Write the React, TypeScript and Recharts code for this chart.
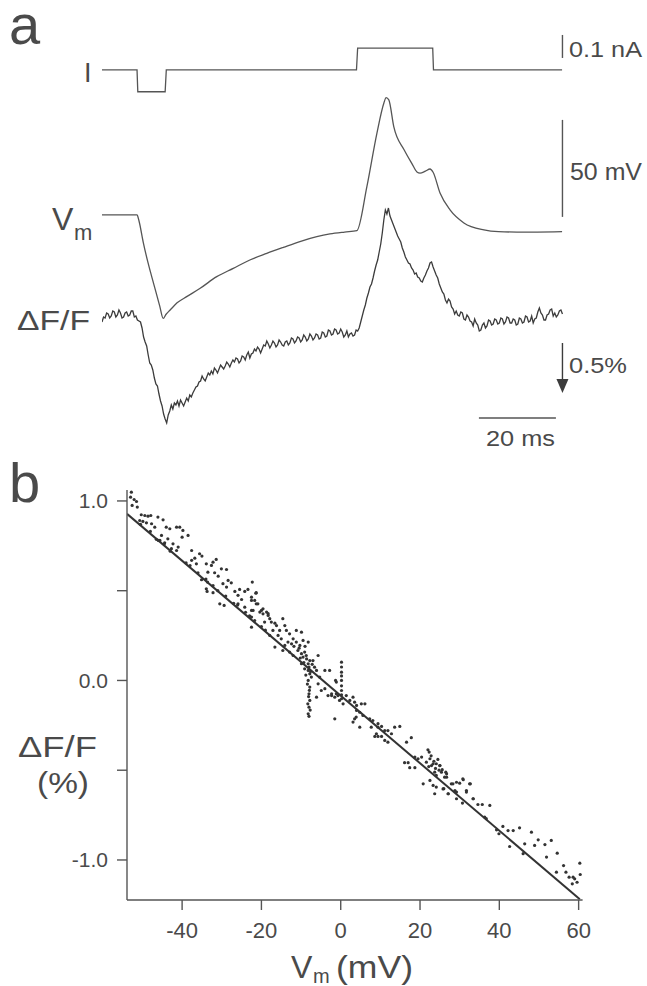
import React from "react";
import {
  ComposedChart,
  Line,
  Scatter,
  XAxis,
  YAxis,
  ReferenceLine,
} from "recharts";

const INK = "#3c3c3c";
const TEXT = "#4a4a4a";
const FONT = '"Liberation Sans", Arial, Helvetica, sans-serif';

// ---- panel a: traces vs time (ms) ----

// injected current, [ms, nA]
const CURRENT: [number, number][] = [
  [0, 0], [9.1, 0], [9.3, -0.095], [16.4, -0.095], [16.7, 0],
  [66.1, 0], [66.4, 0.095], [85.9, 0.095], [86.1, 0], [119.5, 0],
];

// membrane potential relative to rest, [ms, mV]
const VM: [number, number][] = [
  [0, 0], [9.1, 0], [9.6, -3], [10.7, -14], [12, -25], [13.5, -36], [15, -47],
  [15.9, -53.3], [16.6, -51.3], [17.7, -49], [19.5, -45.3], [22, -42.1],
  [25.5, -37.8], [29.8, -31.8], [34.1, -27.5], [38.4, -23.2], [42.8, -19.8],
  [47.1, -16.7], [51.4, -13.7], [55.8, -11.2], [59.2, -9.8], [63, -8.8],
  [66.2, -8.1], [68.8, 14.6], [71.4, 42.1], [73.2, 57.6], [73.8, 60.5],
  [74.5, 59.3], [75.8, 45.4], [78.5, 33.5], [80.5, 26.5], [81.8, 22.2],
  [82.6, 21.6], [84, 22.6], [85.2, 23.7], [86, 22], [87.8, 11.3], [90.4, 2.6],
  [94, -4.1], [99.2, -7.7], [103, -8.6], [107.8, -8.8], [113, -8.8], [119.5, -8.6],
];

// fluorescence change (%), one sample every DT ms
const DT = 0.4;
const DFF: number[] = [
  // 0 - 7.6 ms
  0.04, -0.01, 0.0, -0.05, -0.04, 0.0, -0.02, -0.07, -0.06, -0.01,
  -0.03, -0.08, -0.05, 0.0, -0.01, -0.05, -0.06, -0.02, -0.03, -0.07,
  // 8 - 15.6
  -0.07, -0.01, -0.02, 0.02, 0.03, 0.04, 0.1, 0.19, 0.24, 0.28,
  0.37, 0.45, 0.47, 0.52, 0.6, 0.66, 0.68, 0.76, 0.83, 0.88,
  // 16 - 23.6
  0.96, 1.01, 1.05, 0.97, 0.93, 0.87, 0.91, 0.85, 0.87, 0.83,
  0.88, 0.82, 0.85, 0.88, 0.84, 0.8, 0.83, 0.77, 0.79, 0.75,
  // 24 - 31.6
  0.72, 0.69, 0.68, 0.64, 0.63, 0.58, 0.61, 0.63, 0.59, 0.55,
  0.57, 0.53, 0.56, 0.5, 0.52, 0.55, 0.51, 0.47, 0.49, 0.51,
  // 32 - 39.6
  0.48, 0.44, 0.46, 0.49, 0.45, 0.42, 0.44, 0.4, 0.41, 0.45,
  0.43, 0.38, 0.39, 0.42, 0.37, 0.34, 0.4, 0.36, 0.35, 0.31,
  // 40 - 47.6
  0.33, 0.29, 0.31, 0.35, 0.31, 0.27, 0.28, 0.23, 0.26, 0.3,
  0.27, 0.23, 0.25, 0.29, 0.27, 0.22, 0.24, 0.27, 0.28, 0.24,
  // 48 - 55.6
  0.23, 0.27, 0.25, 0.2, 0.21, 0.25, 0.23, 0.19, 0.2, 0.24,
  0.22, 0.17, 0.19, 0.23, 0.21, 0.16, 0.18, 0.22, 0.2, 0.16,
  // 56 - 63.6
  0.17, 0.21, 0.2, 0.14, 0.15, 0.19, 0.18, 0.12, 0.13, 0.17,
  0.16, 0.11, 0.12, 0.16, 0.15, 0.11, 0.14, 0.19, 0.17, 0.13,
  // 64 - 71.6
  0.19, 0.16, 0.15, 0.18, 0.17, 0.12, 0.13, 0.1, 0.04, -0.02,
  -0.08, -0.13, -0.2, -0.25, -0.31, -0.34, -0.4, -0.47, -0.53, -0.58,
  // 72 - 79.6
  -0.66, -0.74, -0.85, -0.98, -1.08, -1.04, -1.1, -1.02, -0.98, -0.94,
  -0.9, -0.86, -0.82, -0.79, -0.76, -0.7, -0.66, -0.61, -0.58, -0.55,
  // 80 - 87.6
  -0.54, -0.5, -0.48, -0.44, -0.45, -0.41, -0.4, -0.37, -0.36, -0.4,
  -0.43, -0.47, -0.5, -0.55, -0.56, -0.51, -0.47, -0.43, -0.4, -0.34,
  // 88 - 95.6
  -0.3, -0.26, -0.24, -0.18, -0.15, -0.19, -0.17, -0.11, -0.09, -0.04,
  -0.07, -0.03, -0.02, -0.06, -0.05, 0.01, 0.02, -0.03, -0.01, 0.03,
  // 96 - 103.6
  0.04, 0.08, 0.01, 0.05, 0.07, 0.13, 0.12, 0.07, 0.05, 0.1,
  0.08, 0.02, 0.03, 0.07, 0.06, 0.01, 0.02, 0.06, 0.05, 0.0,
  // 104 - 111.6
  0.01, 0.06, 0.04, -0.01, 0.0, 0.05, 0.05, 0.01, 0.02, 0.07,
  0.06, 0.0, 0.01, 0.05, 0.04, -0.02, -0.01, 0.04, 0.03, -0.02,
  // 112 - 119.6
  0.05, 0.01, 0.0, -0.06, -0.1, -0.05, -0.03, 0.02, 0.02, -0.03,
  -0.04, -0.08, -0.09, -0.02, -0.05, -0.01, -0.03, -0.07, -0.08, -0.04,
];

// scale bars
const BAR_X = 119.6;
const BAR_NA: [number, number] = [0.052, 0.152];
const BAR_MV: [number, number] = [-1, 49];
const BAR_DFF: [number, number] = [0.25, 0.75];
const BAR_MS: [number, number] = [97.9, 117.9];
const BAR_MS_Y = 1.0;

// ---- panel b: dF/F (%) vs Vm (mV) ----
const SCATTER: [number, number][] = [
  // far hyperpolarized
  [-52.8, 1.049], [-53.0, 1.021], [-52.1, 1.008], [-51.5, 0.997], [-52.6, 0.975],
  [-51.3, 0.966], [-50.3, 0.923], [-49.4, 0.919], [-48.6, 0.915], [-47.9, 0.919],
  [-50.7, 0.891], [-49.9, 0.886], [-49.0, 0.878], [-47.7, 0.873], [-46.1, 0.91],
  [-44.8, 0.895], [-46.9, 0.854], [-44.0, 0.854], [-43.1, 0.845], [-41.4, 0.854],
  [-40.6, 0.854], [-39.8, 0.836], [-38.5, 0.808], [-40.0, 0.798], [-45.2, 0.808],
  [-46.5, 0.786], [-45.6, 0.78], [-43.6, 0.789], [-44.4, 0.767], [-42.3, 0.761],
  [-41.0, 0.743], [-42.7, 0.734], [-41.4, 0.724], [-37.6, 0.724], [-35.6, 0.706],
  [-35.0, 0.693], [-36.8, 0.681], [-37.6, 0.669], [-36.4, 0.65], [-33.9, 0.65],
  [-32.6, 0.641], [-31.4, 0.674], [-32.2, 0.659], [-30.1, 0.622], [-28.8, 0.618],
  [-33.5, 0.603], [-31.8, 0.6], [-30.9, 0.581], [-35.1, 0.561], [-33.6, 0.548],
  [-32.2, 0.529], [-29.7, 0.539], [-28.4, 0.557], [-27.6, 0.544], [-28.8, 0.52],
  [-33.9, 0.511], [-33.7, 0.496], [-32.2, 0.489], [-26.7, 0.496], [-25.5, 0.507],
  [-24.2, 0.496], [-23.4, 0.507], [-25.9, 0.474], [-25.0, 0.451], [-22.5, 0.464],
  [-21.3, 0.489], [-21.7, 0.446], [-20.9, 0.427], [-30.5, 0.427], [-29.4, 0.418],
  [-25.9, 0.427], [-24.2, 0.408], [-22.5, 0.39], [-20.0, 0.39], [-18.3, 0.372],
  // dots lying along the fit line
  [-50.5, 0.87], [-48.0, 0.83], [-46.0, 0.78], [-44.5, 0.76], [-43.0, 0.72],
  [-39.0, 0.655], [-38.0, 0.64], [-36.0, 0.6], [-34.0, 0.565], [-31.0, 0.5],
  [-29.0, 0.47], [-27.0, 0.43], [-26.0, 0.42], [-24.0, 0.38], [-23.0, 0.36],
  [-20.0, 0.3], [-19.0, 0.28],
  // around rest after recovery
  [-21.4, 0.486], [-22.5, 0.446], [-21.3, 0.427], [-22.1, 0.39], [-20.4, 0.381],
  [-22.5, 0.353], [-21.7, 0.334], [-22.5, 0.297], [-19.6, 0.371], [-18.7, 0.381],
  [-18.3, 0.362], [-17.9, 0.344], [-19.2, 0.325], [-17.5, 0.325], [-16.6, 0.319],
  [-16.2, 0.306], [-14.6, 0.344], [-14.1, 0.306], [-15.4, 0.279], [-17.1, 0.279],
  [-17.9, 0.251], [-15.8, 0.251], [-15.0, 0.232], [-13.7, 0.279], [-12.9, 0.26],
  [-11.2, 0.279], [-9.9, 0.269], [-12.0, 0.232], [-13.3, 0.214], [-14.1, 0.195],
  [-12.4, 0.204], [-11.2, 0.214], [-9.5, 0.223], [-8.2, 0.214], [-10.3, 0.195],
  [-16.6, 0.186], [-14.6, 0.167], [-12.9, 0.158], [-12.0, 0.139], [-10.8, 0.167],
  [-9.9, 0.149], [-9.1, 0.158], [-9.5, 0.13], [-8.7, 0.139], [-7.8, 0.111],
  [-8.2, 0.093], [-7.0, 0.111], [-5.7, 0.139], [-6.6, 0.074], [-9.9, 0.093],
  [-9.1, 0.065], [-8.2, 0.056], [-7.8, 0.037], [-7.4, 0.019], [-8.2, 0.0],
  [-7.8, -0.037], [-8.0, -0.074], [-7.8, -0.111], [-8.0, -0.149], [-8.2, -0.186],
  [-8.6, 0.12], [-9.3, 0.1], [-8.0, 0.075], [-7.6, 0.05], [-8.4, -0.02],
  [-7.9, -0.055], [-8.1, -0.09], [-8.3, -0.13], [-7.7, -0.165], [-8.0, -0.2],
  [-10.5, 0.18], [-11.8, 0.19], [-9.0, 0.19], [-10.2, 0.125], [-8.8, 0.03], [-7.2, 0.09],
  [-6.1, 0.056], [-5.3, 0.019], [-4.0, 0.056], [-2.8, 0.056], [-5.7, -0.019],
  [-4.9, -0.056], [-4.0, -0.046], [-3.2, -0.084], [-6.1, -0.093], [-2.3, -0.084],
  [-1.5, -0.093], [-0.7, -0.084], [-22.3, 0.548], [-19.6, 0.399],
  // baseline streak and depolarized
  [0.2, 0.102], [0.2, 0.075], [0.2, 0.046], [0.2, 0.025], [0.2, 0.0], [0.2, -0.03],
  [0.2, -0.056], [0.2, -0.08], [0.2, -0.102], [-1.1, -0.009], [-1.3, 0.0],
  [-2.3, -0.074], [-1.1, -0.074], [-0.3, -0.111], [0.6, -0.13], [1.4, -0.084],
  [2.3, -0.111], [3.1, -0.093], [3.5, -0.121], [4.0, -0.139], [5.2, -0.13],
  [6.1, -0.13], [4.0, -0.167], [4.8, -0.177], [5.6, -0.195], [3.9, -0.204],
  [3.5, -0.214], [3.1, -0.232], [4.8, -0.26], [-1.5, -0.214], [7.7, -0.26],
  [9.0, -0.297], [9.4, -0.241], [7.3, -0.214], [8.1, -0.223], [9.4, -0.26],
  [10.3, -0.256], [11.1, -0.279], [11.9, -0.279], [12.8, -0.297], [13.6, -0.26],
  [14.9, -0.256], [8.6, -0.312], [9.4, -0.312], [10.3, -0.312], [11.1, -0.334],
  [11.9, -0.344], [16.6, -0.344], [17.8, -0.319], [18.7, -0.427], [19.5, -0.436],
  [20.4, -0.427], [21.6, -0.455], [22.0, -0.386], [22.3, -0.399], [22.5, -0.436],
  [22.9, -0.474], [23.3, -0.464], [24.1, -0.464], [25.0, -0.474], [16.1, -0.458],
  [17.0, -0.458], [17.4, -0.486], [18.7, -0.486], [23.7, -0.511], [24.1, -0.529],
  [25.4, -0.511], [26.2, -0.539], [26.7, -0.52], [20.8, -0.576], [22.5, -0.557],
  [23.3, -0.585], [24.1, -0.594], [25.8, -0.604], [27.9, -0.576], [29.2, -0.567],
  [30.8, -0.548], [32.5, -0.576], [27.1, -0.631], [29.2, -0.622], [31.7, -0.613],
  [33.4, -0.659], [23.7, -0.631], [22.8, -0.42], [23.5, -0.45], [24.5, -0.44],
  [22.2, -0.48], [23.9, -0.49], [24.8, -0.5],
  // spike peak
  [25.0, -0.474], [25.6, -0.497], [26.5, -0.511], [26.7, -0.539], [26.0, -0.603],
  [27.1, -0.631], [28.3, -0.576], [28.8, -0.613], [30.0, -0.572], [30.9, -0.553],
  [32.7, -0.576], [31.7, -0.622], [29.2, -0.659], [30.7, -0.683], [33.4, -0.659],
  [34.6, -0.691], [35.7, -0.691], [37.6, -0.696], [36.3, -0.761], [36.7, -0.77],
  [39.3, -0.832], [39.9, -0.854], [40.9, -0.813], [42.2, -0.836], [43.5, -0.836],
  [45.1, -0.821], [42.6, -0.925], [46.4, -0.91], [46.0, -0.965], [48.1, -0.845],
  [49.8, -0.888], [48.9, -0.919], [51.5, -0.914], [53.1, -0.891], [51.9, -0.984],
  [54.6, -0.962], [56.2, -1.031], [56.8, -1.068], [54.4, -1.068], [57.6, -1.096],
  [58.6, -1.096], [59.0, -1.105], [59.6, -1.124], [58.4, -1.133], [60.3, -1.018],
  [60.4, -1.081],
];

// linear fit through the points
const FIT_SLOPE = -0.0188;
const FIT_INTERCEPT = -0.085;
const FIT_RANGE = [-53.9, 60.3];

const X_TICKS = [-40, -20, 0, 20, 40, 60];
const Y_TICKS = [-1, -0.5, 0, 0.5, 1];
const Y_LABELED = [-1, 0, 1];

const currentData = CURRENT.map(([t, v]) => ({ t, v }));
const vmData = VM.map(([t, v]) => ({ t, v }));
const dffData = DFF.map((v, i) => ({ t: +(i * DT).toFixed(2), v }));
const scatterData = SCATTER.map(([x, y]) => ({ x, y }));
const fitData = FIT_RANGE.map((x) => ({ x, y: FIT_INTERCEPT + FIT_SLOPE * x }));

const ArrowBar = (p: any) => {
  const { x1, y1, x2, y2 } = p;
  const head = 14;
  return (
    <g>
      <line x1={x1} y1={y1} x2={x2} y2={y2 - head + 2} stroke={INK} strokeWidth={1.4} />
      <polygon
        points={`${x2 - 6},${y2 - head} ${x2 + 6},${y2 - head} ${x2},${y2}`}
        fill={INK}
      />
    </g>
  );
};

const Dot = (p: any) => <circle cx={p.cx} cy={p.cy} r={1.6} fill="#333" />;

const fmtY = (v: number) =>
  Y_LABELED.includes(v) ? v.toFixed(1) : "";

const Label = ({
  x, y, size, children, len,
}: { x: number; y: number; size: number; children: React.ReactNode; len?: number }) => (
  <text
    x={x}
    y={y}
    fontSize={size}
    fill={TEXT}
    fontFamily={FONT}
    textLength={len}
    lengthAdjust={len ? "spacingAndGlyphs" : undefined}
  >
    {children}
  </text>
);

export default function App() {
  const axisStyle = { stroke: "#555", strokeWidth: 1.4 };
  return (
    <div
      style={{
        position: "absolute",
        left: 0,
        top: 0,
        width: 647,
        height: 986,
        background: "#fff",
        overflow: "hidden",
      }}
    >
      <div style={{ position: "absolute", left: 0, top: 0 }}>
        <ComposedChart
          width={647}
          height={460}
          margin={{ top: 0, right: 44.5, bottom: 0, left: 102 }}
        >
          <XAxis type="number" dataKey="t" domain={[0, 130]} hide allowDataOverflow />
          <YAxis yAxisId="i" type="number" domain={[-1.696, 0.304]} hide allowDataOverflow />
          <YAxis yAxisId="vm" type="number" domain={[-126.3, 110.8]} hide allowDataOverflow />
          <YAxis yAxisId="dff" type="number" domain={[-3.18, 1.42]} reversed hide allowDataOverflow />
          <Line
            yAxisId="i"
            data={currentData}
            dataKey="v"
            type="linear"
            stroke="#555"
            strokeWidth={1.3}
            dot={false}
            isAnimationActive={false}
          />
          <Line
            yAxisId="vm"
            data={vmData}
            dataKey="v"
            type="monotone"
            stroke="#555"
            strokeWidth={1.3}
            dot={false}
            isAnimationActive={false}
          />
          <Line
            yAxisId="dff"
            data={dffData}
            dataKey="v"
            type="linear"
            stroke={INK}
            strokeWidth={1.3}
            dot={false}
            isAnimationActive={false}
          />
          <ReferenceLine
            yAxisId="i"
            segment={[{ x: BAR_X, y: BAR_NA[0] }, { x: BAR_X, y: BAR_NA[1] }]}
            stroke="#555"
            strokeWidth={1.4}
          />
          <ReferenceLine
            yAxisId="vm"
            segment={[{ x: BAR_X, y: BAR_MV[0] }, { x: BAR_X, y: BAR_MV[1] }]}
            stroke="#555"
            strokeWidth={1.4}
          />
          <ReferenceLine
            yAxisId="dff"
            segment={[{ x: BAR_X, y: BAR_DFF[0] }, { x: BAR_X, y: BAR_DFF[1] }]}
            shape={ArrowBar}
          />
          <ReferenceLine
            yAxisId="dff"
            segment={[{ x: BAR_MS[0], y: BAR_MS_Y }, { x: BAR_MS[1], y: BAR_MS_Y }]}
            stroke="#555"
            strokeWidth={1.4}
          />
        </ComposedChart>
      </div>

      <div style={{ position: "absolute", left: 0, top: 470 }}>
        <ComposedChart
          width={647}
          height={516}
          margin={{ top: 20, right: 64.4, bottom: 36, left: 67 }}
        >
          <XAxis
            type="number"
            dataKey="x"
            domain={[-53.9, 61]}
            ticks={X_TICKS}
            interval={0}
            allowDataOverflow
            height={50}
            tickSize={10}
            tickMargin={12}
            axisLine={axisStyle}
            tickLine={axisStyle}
            tick={{ fill: TEXT, fontSize: 22, fontFamily: FONT }}
          />
          <YAxis
            type="number"
            dataKey="y"
            domain={[-1.223, 1.061]}
            ticks={Y_TICKS}
            interval={0}
            allowDataOverflow
            width={60}
            tickSize={10}
            tickMargin={9}
            tickFormatter={fmtY}
            axisLine={axisStyle}
            tickLine={axisStyle}
            tick={{ fill: TEXT, fontSize: 21, fontFamily: FONT }}
          />
          <Scatter data={scatterData} shape={Dot} isAnimationActive={false} />
          <Line
            data={fitData}
            dataKey="y"
            type="linear"
            stroke="#333"
            strokeWidth={2}
            dot={false}
            isAnimationActive={false}
          />
        </ComposedChart>
      </div>

      <svg
        width={647}
        height={986}
        style={{ position: "absolute", left: 0, top: 0, pointerEvents: "none" }}
      >
        <Label x={9} y={44} size={56}>a</Label>
        <Label x={84} y={82} size={27}>I</Label>
        <Label x={52} y={230} size={32}>V</Label>
        <Label x={74} y={240} size={22}>m</Label>
        <Label x={17} y={330} size={28} len={73}>ΔF/F</Label>
        <Label x={569} y={57} size={22} len={73}>0.1 nA</Label>
        <Label x={570} y={180} size={23} len={72}>50 mV</Label>
        <Label x={569} y={373} size={22} len={58}>0.5%</Label>
        <Label x={486} y={446} size={22} len={69}>20 ms</Label>

        <Label x={9} y={502} size={56}>b</Label>
        <Label x={18} y={757} size={29} len={79}>ΔF/F</Label>
        <Label x={37} y={793} size={29} len={52}>(%)</Label>
        <Label x={291} y={978} size={32}>V</Label>
        <Label x={313} y={983} size={20}>m</Label>
        <Label x={336} y={978} size={32} len={77}>(mV)</Label>
      </svg>
    </div>
  );
}
